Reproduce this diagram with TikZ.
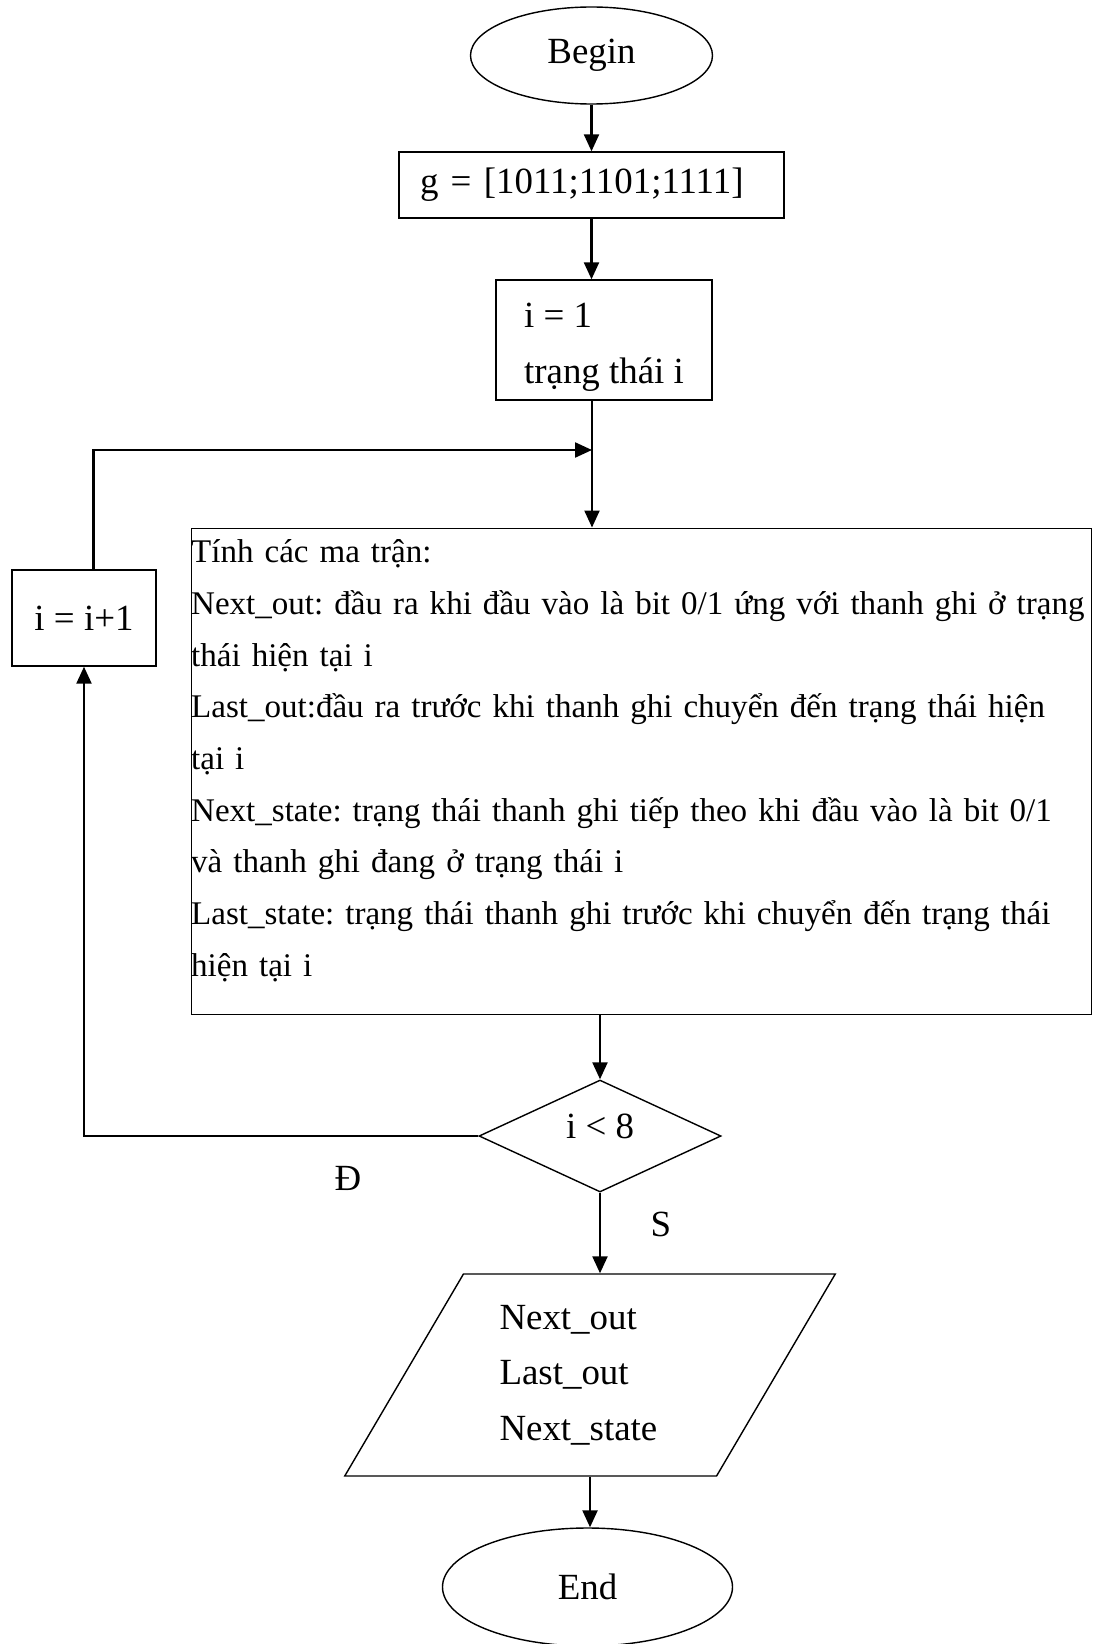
\documentclass[tikz,border=0pt]{standalone}
\usepackage{fontspec}
\setmainfont{Liberation Serif}
\usetikzlibrary{shapes.geometric,arrows.meta}
\frenchspacing

\begin{document}
\begin{tikzpicture}[
		font=\fontsize{21pt}{31.5pt}\selectfont,
		box/.style={draw, rectangle, line width=0.8pt, inner sep=0pt},
		term/.style={draw, ellipse, line width=0.8pt, inner sep=0pt},
		decision/.style={draw, diamond, line width=0.8pt, inner sep=0pt},
		io/.style={draw, trapezium, trapezium left angle=58.7, trapezium right angle=121.3,
			trapezium stretches=true, line width=0.8pt, inner sep=0pt},
		arr/.style={line width=1.3pt, -{Triangle[length=0.34cm, width=0.3cm]}}
	]
				\useasboundingbox (0,0) rectangle (21.96,-32.88);

				% Nodes
				\node[term, minimum width=4.84cm, minimum height=1.94cm] (begin) at (11.83,-1.11) {Begin};
				\node[box, minimum height=1.32cm, text width=6.86cm, inner xsep=0.42cm, align=left] (g) at (11.83,-3.70) {g = [1011;1101;1111]};
				\node[box, minimum width=4.32cm, minimum height=2.4cm, text height=1.88cm, align=left] (init) at (12.08,-6.80) {i = 1\\trạng thái i};
				\coordinate (join) at (11.84,-9.0);
				\node[box, anchor=north west, text width=18.01cm,
					text height=0.69cm, text depth=9.04cm, align=left,
					font=\fontsize{18.8pt}{29.4pt}\selectfont] (tinh) at (3.81,-10.55) {Tính các ma trận:\\
					Next\_out: đầu ra khi đầu vào là bit 0/1 ứng với thanh ghi ở trạng\\
					thái hiện tại i\\
					Last\_out:đầu ra trước khi thanh ghi chuyển đến trạng thái hiện\\
					tại i\\
					Next\_state: trạng thái thanh ghi tiếp theo khi đầu vào là bit 0/1\\
					và thanh ghi đang ở trạng thái i\\
					Last\_state: trạng thái thanh ghi trước khi chuyển đến trạng thái\\
					hiện tại i};
				\node[box, minimum width=2.88cm, minimum height=1.92cm] (inc) at (1.68,-12.36) {i = i+1};
				\node[decision, minimum width=4.84cm, minimum height=2.24cm, text depth=0.38cm] (dec) at (12.0,-22.72) {i < 8};
				\node[io, minimum width=9.82cm, minimum height=4.04cm, text width=3.62cm, align=left] (out) at (11.8,-27.5) {Next\_out\\Last\_out\\Next\_state};
				\node[term, minimum width=5.8cm, minimum height=2.36cm] (end) at (11.75,-31.74) {End};

				% Branch labels
				\node (yes) at (6.96,-23.56) {Đ};
				\node (no) at (13.22,-24.48) {S};

				% Directed edges
				\draw[arr] (begin.south) -- (begin.south |- g.north);
				\draw[arr] (g.south) -- (g.south |- init.north);
				\draw[arr] (init.south -| join) -- (join |- tinh.north);
				\draw[arr] (tinh.south -| dec.north) -- (dec.north);
				\draw[arr] (dec.south) -- (dec.south |- out.north);
				\draw[arr] (out.south) -- (out.south |- end.north);

				% Loop back
				\draw[arr] (dec.west) -| (inc.south);
				\draw[arr] ([xshift=0.19cm]inc.north) |- (join);
			\end{tikzpicture}
\end{document}
